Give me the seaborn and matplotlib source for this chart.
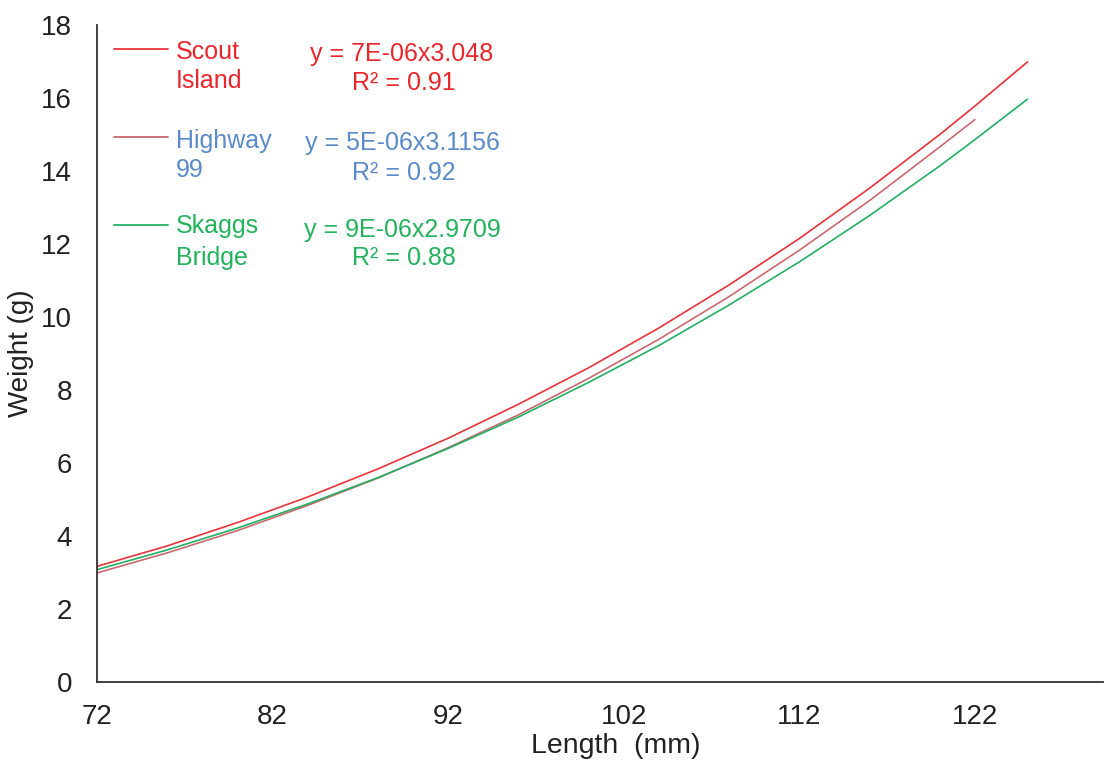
"""
Length-weight power fits for three sites (Scout Island, Highway 99, Skaggs Bridge).
"""

import matplotlib
matplotlib.use("Agg")
import matplotlib.pyplot as plt
from matplotlib.lines import Line2D
import pandas as pd
import seaborn as sns

# ── Data ──────────────────────────────────────────────────────────────
SITES = ["Scout Island", "Highway 99", "Skaggs Bridge"]

scout_len = [72, 76, 80, 84, 88, 92, 96, 100, 104, 108, 112, 116, 120, 122, 125]
scout_wt = [3.16, 3.72, 4.36, 5.06, 5.83, 6.67, 7.60, 8.60, 9.69, 10.87,
            12.14, 13.52, 14.99, 15.77, 16.98]

hwy_len = [72, 76, 80, 84, 88, 92, 96, 100, 104, 108, 112, 116, 120, 122]
hwy_wt = [2.98, 3.53, 4.14, 4.83, 5.58, 6.41, 7.31, 8.31, 9.38, 10.55,
          11.82, 13.18, 14.65, 15.40]

skaggs_len = [72, 76, 80, 84, 88, 92, 96, 100, 104, 108, 112, 116, 120, 122, 125]
skaggs_wt = [3.07, 3.61, 4.21, 4.87, 5.59, 6.39, 7.25, 8.20, 9.21, 10.32,
             11.50, 12.77, 14.13, 14.85, 15.96]

EQUATIONS = ["y = 7E-06x3.048", "y = 5E-06x3.1156", "y = 9E-06x2.9709"]
R2_LABELS = ["R² = 0.91", "R² = 0.92", "R² = 0.88"]

X_TICKS = [72, 82, 92, 102, 112, 122]
Y_TICKS = [0, 2, 4, 6, 8, 10, 12, 14, 16, 18]

LINE_COLORS = {"Scout Island": "#e8333a", "Highway 99": "#c9686f", "Skaggs Bridge": "#22b062"}
TEXT_COLORS = ["#e8262c", "#5b8bc9", "#22b35c"]

df = pd.concat([
    pd.DataFrame({"length": scout_len, "weight": scout_wt, "site": SITES[0]}),
    pd.DataFrame({"length": hwy_len, "weight": hwy_wt, "site": SITES[1]}),
    pd.DataFrame({"length": skaggs_len, "weight": skaggs_wt, "site": SITES[2]}),
], ignore_index=True)

# ── Plot ──────────────────────────────────────────────────────────────
sns.set_style("white")
plt.rcParams["font.family"] = ["Liberation Sans", "DejaVu Sans"]

W, H = 1105, 768
fig = plt.figure(figsize=(W / 100, H / 100), dpi=100)
ax = fig.add_axes([97 / W, 1 - 681.7 / H, (1103 - 97) / W, (681.7 - 24.7) / H])

sns.lineplot(data=df, x="length", y="weight", hue="site", palette=LINE_COLORS,
             linewidth=1.2, legend=False, ax=ax, sort=True)

ax.set_xlim(72, 129.3)
ax.set_ylim(0, 18)
ax.set_xticks(X_TICKS)
ax.set_yticks(Y_TICKS)
ax.tick_params(axis="both", direction="out", length=6, width=1.2, color="#333333",
               labelsize=20, labelcolor="#222222")
ax.tick_params(axis="x", pad=10)
ax.tick_params(axis="y", pad=12)
ax.set_xlabel("Length  (mm)", fontsize=20.5, color="#222222")
ax.set_ylabel("Weight (g)", fontsize=20, color="#222222")
ax.xaxis.set_label_coords((616 - 97) / 1006, -0.078)
ax.yaxis.set_label_coords((34 - 97) / 1006, 0.5)

for side in ["top", "right"]:
    ax.spines[side].set_visible(False)
for side in ["left", "bottom"]:
    ax.spines[side].set_color("#333333")
    ax.spines[side].set_linewidth(1.3)

# ── Legend block (Excel-style, text coloured per series) ──────────────
def fy(py):
    return 1 - py / H

key_y = [49, 137, 225]
name_lines = [("Scout", "Island"), ("Highway", "99"), ("Skaggs", "Bridge")]
name_base = [(59, 88), (148, 177), (233, 265)]
eq_base = [(61, 90), (150, 180), (237, 265)]

for i, site in enumerate(SITES):
    fig.add_artist(Line2D([114 / W, 168 / W], [fy(key_y[i])] * 2,
                          color=LINE_COLORS[site], linewidth=1.3))
    for j, txt in enumerate(name_lines[i]):
        fig.text(176 / W, fy(name_base[i][j]), txt, color=TEXT_COLORS[i],
                 fontsize=18, ha="left", va="baseline")
    fig.text(402 / W, fy(eq_base[i][0]), EQUATIONS[i], color=TEXT_COLORS[i],
             fontsize=18, ha="center", va="baseline")
    fig.text(404 / W, fy(eq_base[i][1]), R2_LABELS[i], color=TEXT_COLORS[i],
             fontsize=18, ha="center", va="baseline")

fig.savefig("out.png", dpi=100)
plt.close(fig)
